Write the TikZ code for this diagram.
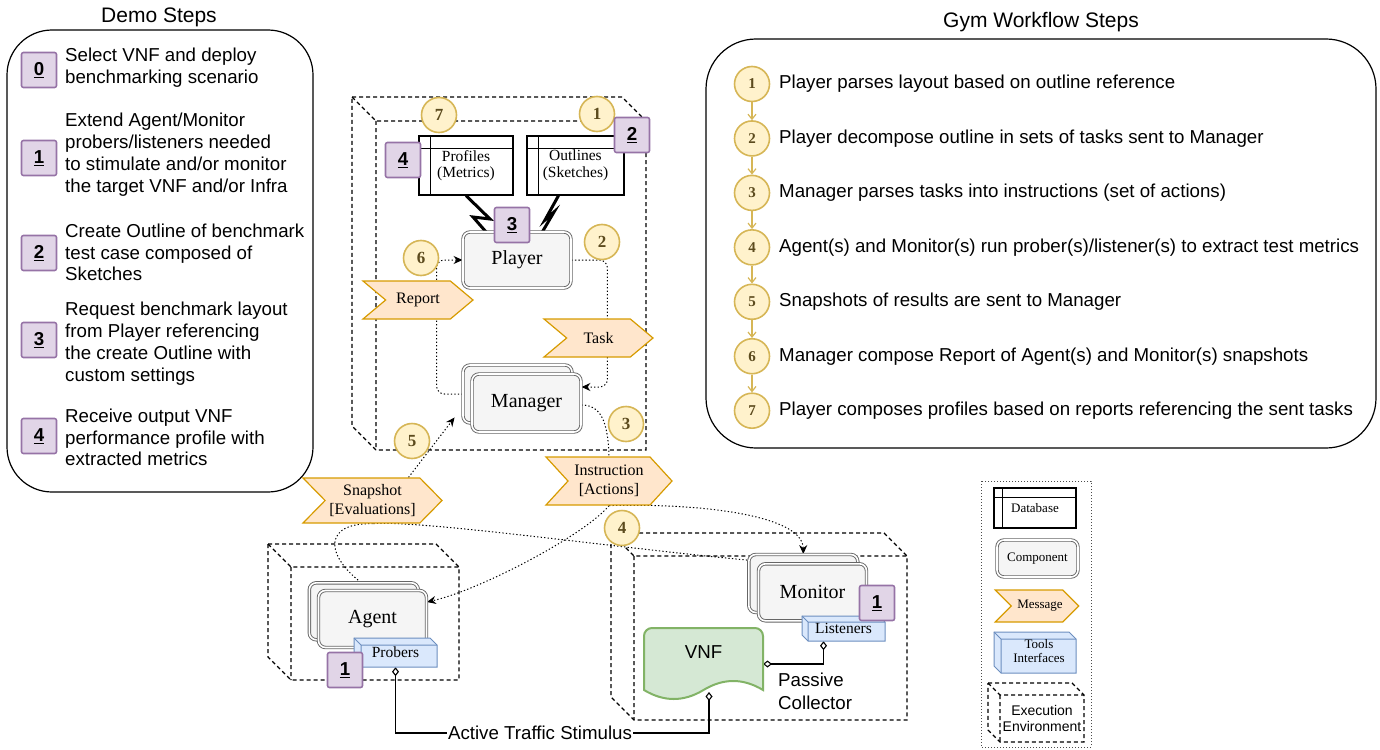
\documentclass[tikz,border=0pt]{standalone}
\usepackage{fontspec}
\setmainfont{Liberation Sans}
\newfontfamily\srf{Liberation Serif}
\usetikzlibrary{shapes.symbols,arrows.meta,calc,backgrounds}
\definecolor{pfill}{HTML}{E1D5E7}
\definecolor{pline}{HTML}{9673A6}
\definecolor{yfill}{HTML}{FFF2CC}
\definecolor{yline}{HTML}{D6B656}
\definecolor{ynum}{HTML}{5C4B1E}
\definecolor{mfill}{HTML}{FFE6CC}
\definecolor{mline}{HTML}{D79B00}
\definecolor{bfill}{HTML}{DAE8FC}
\definecolor{bline}{HTML}{6C8EBF}
\definecolor{gfill}{HTML}{D5E8D4}
\definecolor{gline}{HTML}{82B366}
\definecolor{cfill}{HTML}{F5F5F5}
\definecolor{cline}{HTML}{666666}
\newcommand\fsz[2]{\fontsize{#1pt}{#2pt}\selectfont}
\newcommand\envcube[5]{%
  \draw[envline] (#1,#2) -- ++(#3-#5,0) -- ++(#5,#5) -- ++(0,#4-#5) -- ++(-#3+#5,0) -- ++(-#5,-#5) -- cycle;
  \draw[envline] (#1,#2) -- ++(#5,#5) -- ++(#3-#5,0) (#1+#5,#2+#5) -- ++(0,#4-#5);}
\newcommand\toolcube[5]{%
  \draw[toolline] (#1,#2) -- ++(#3-#5,0) -- ++(#5,#5) -- ++(0,#4-#5) -- ++(-#3+#5,0) -- ++(-#5,-#5) -- cycle;
  \draw[draw=bline, line width=1pt] (#1,#2) -- ++(#5,#5) -- ++(#3-#5,0) (#1+#5,#2+#5) -- ++(0,#4-#5);}
\tikzset{
  envline/.style={line width=1.2pt, dash pattern=on 4pt off 3pt},
  toolline/.style={fill=bfill, draw=bline, line width=1pt},
  tooltxt/.style={inner sep=0, font=\srf\fsz{15.5}{17}, align=center},
  badge/.style={rectangle, rounded corners=2pt, fill=pfill, draw=pline, line width=1.6pt, minimum size=35pt, inner sep=0, font=\bfseries\fsz{18.7}{20}},
  stc/.style={circle, fill=yfill, draw=yline, line width=1.6pt, minimum size=35pt, inner sep=0, text=ynum, font=\srf\bfseries\fsz{17}{17}},
  gstc/.style={stc, font=\srf\bfseries\fsz{15}{15}},
  comp/.style={rectangle, draw=cline, double=white, double distance=1.6pt, line width=0.9pt, fill=cfill, rounded corners=7pt, inner sep=0, font=\srf\fsz{20}{22}},
  db/.style={rectangle, draw, line width=1.2pt, fill=white, inner sep=0, align=center, font=\srf\fsz{15.5}{16.5}},
  msg/.style={signal, signal to=east, signal from=west, signal pointer angle=90, fill=mfill, draw=mline, line width=1.2pt, inner sep=0, font=\srf\fsz{16}{18.5}, align=center},
  conn/.style={line width=1pt, dash pattern=on 1.3pt off 2.2pt, -{Stealth[length=9pt,width=8pt,inset=3pt]}},
  dotline/.style={line width=1pt, dash pattern=on 1.3pt off 2.2pt},
  diam/.style={line width=1.1pt, {Diamond[length=9pt,width=7pt,fill=white]}-{Diamond[length=9pt,width=7pt,fill=white]}},
  bolt/.style={line width=3pt, line join=miter},
  garrow/.style={draw=yline, line width=1.2pt, -{Straight Barb[length=5pt,width=8pt]}},
  body/.style={font=\fsz{18.7}{21.8}, align=left, inner sep=0},
  title/.style={font=\fsz{21}{24}, inner sep=0},
}
\begin{document}
\begin{tikzpicture}[x=1pt,y=-1pt]
\useasboundingbox (0,0) rectangle (1380,749);

% ---------------- Demo steps ----------------
\node[title] (demotitle) at (159,17) {Demo Steps};
\draw[line width=1.2pt, rounded corners=45pt] (7,30) rectangle (313,492);
\node[badge] (d0) at (39,70) {\underline{0}};
\node[badge] (d1) at (39,158) {\underline{1}};
\node[badge] (d2) at (39,253) {\underline{2}};
\node[badge] (d3) at (39,340) {\underline{3}};
\node[badge] (d4) at (39,436) {\underline{4}};
\node[body, anchor=west] (t0) at (65,68) {Select VNF and deploy\\benchmarking scenario};
\node[body, anchor=west] (t1) at (65,154.5) {Extend Agent/Monitor\\probers/listeners needed\\to stimulate and/or monitor\\the target VNF and/or Infra};
\node[body, anchor=west] (t2) at (65,252.5) {Create Outline of benchmark\\test case composed of\\Sketches};
\node[body, anchor=west] (t3) at (65,343.5) {Request benchmark layout\\from Player referencing\\the create Outline with\\custom settings};
\node[body, anchor=west] (t4) at (65,437.5) {Receive output VNF\\performance profile with\\extracted metrics};

% ---------------- Gym workflow steps ----------------
\node[title] (gymtitle) at (1041,22) {Gym Workflow Steps};
\draw[line width=1.2pt, rounded corners=50pt] (706,39) rectangle (1376,448);
\node[gstc] (g1) at (752,84) {1};
\node[gstc] (g2) at (752,138.45) {2};
\node[gstc] (g3) at (752,192.9) {3};
\node[gstc] (g4) at (752,247.35) {4};
\node[gstc] (g5) at (752,301.8) {5};
\node[gstc] (g6) at (752,356.25) {6};
\node[gstc] (g7) at (752,410.7) {7};
\node[body, anchor=west] (gt1) at (779,84) {Player parses layout based on outline reference};
\node[body, anchor=west] (gt2) at (779,138.45) {Player decompose outline in sets of tasks sent to Manager};
\node[body, anchor=west] (gt3) at (779,192.9) {Manager parses tasks into instructions (set of actions)};
\node[body, anchor=west] (gt4) at (779,247.35) {Agent(s) and Monitor(s) run prober(s)/listener(s) to extract test metrics};
\node[body, anchor=west] (gt5) at (779,301.8) {Snapshots of results are sent to Manager};
\node[body, anchor=west] (gt6) at (779,356.25) {Manager compose Report of Agent(s) and Monitor(s) snapshots};
\node[body, anchor=west] (gt7) at (779,410.7) {Player composes profiles based on reports referencing the sent tasks};
\foreach \a/\b in {1/2,2/3,3/4,4/5,5/6,6/7}{\draw[garrow] (g\a) -- (g\b);}

% ---------------- Execution environments ----------------
\envcube{352}{97}{294}{353}{24}
\envcube{268}{544}{191}{136}{23}
\envcube{611}{533}{296}{187}{23}

% ---------------- Databases ----------------
\node[db, minimum width=94pt, minimum height=59pt] (prof) at (466,165.5) {Profiles\\(Metrics)};
\draw[line width=1.2pt] ([xshift=12pt]prof.north west) -- ([xshift=12pt]prof.south west)
  ([yshift=-13pt]prof.north west) -- ([yshift=-13pt]prof.north east);
\node[db, minimum width=97pt, minimum height=59pt] (outl) at (575.5,165.5) {Outlines\\(Sketches)};
\draw[line width=1.2pt] ([xshift=12pt]outl.north west) -- ([xshift=12pt]outl.south west)
  ([yshift=-13pt]outl.north west) -- ([yshift=-13pt]outl.north east);

% ---------------- Components ----------------
\node[comp, minimum width=108pt, minimum height=56pt] (player) at (517,260) {Player};
\node[comp, minimum width=109pt, minimum height=58pt] (manB) at (517.5,394) {};
\node[comp, minimum width=109pt, minimum height=58pt] (man) at (526.5,403) {Manager};
\node[comp, minimum width=109pt, minimum height=57pt] (agentB) at (363.8,611.3) {};
\node[comp, minimum width=108pt, minimum height=57pt] (agent) at (372.5,619) {Agent};
\node[comp, minimum width=109pt, minimum height=58pt] (monB) at (803.3,583.5) {};
\node[comp, minimum width=108pt, minimum height=57pt] (mon) at (812.5,592.3) {Monitor};

% ---------------- Tools ----------------
\toolcube{354}{638}{83}{29}{7}
\node[tooltxt, minimum width=83pt, minimum height=29pt] (prob) at (395.5,652.5) {\raisebox{-3pt}{Probers}};
\toolcube{802}{616}{83}{25}{6}
\node[tooltxt, minimum width=83pt, minimum height=25pt] (list) at (843.5,628.5) {\raisebox{-2pt}{Listeners}};

% ---------------- VNF ----------------
\draw[fill=gfill, draw=gline, line width=2pt] (644,690) [rounded corners=8pt] -- (644,628) -- (763,628) [sharp corners] -- (763,690)
  .. controls (743.2,678) and (723.3,678) .. (703.5,690)
  .. controls (683.7,702) and (663.8,702) .. (644,690) -- cycle;
\node[font=\fsz{18.7}{20}, inner sep=0] (vnf) at (703.5,652) {VNF};
\coordinate (vnfR) at (763,664);
\coordinate (vnfB) at (709,692);

% ---------------- Messages ----------------
\node[msg, signal pointer angle=80, minimum width=110pt, minimum height=38pt] (rep) at (418,300) {Report};
\node[msg, signal pointer angle=80, minimum width=109pt, minimum height=38pt] (task) at (598.5,338) {Task};
\node[msg, signal pointer angle=95, minimum width=126pt, minimum height=48pt] (instr) at (609,481) {Instruction\\{}[Actions]};
\node[msg, signal pointer angle=91, minimum width=139pt, minimum height=45pt] (snap) at (372.5,500.5) {Snapshot\\{}[Evaluations]};

% ---------------- Texts ----------------
\node[font=\fsz{18.7}{20}, fill=white, inner sep=1pt] (ats) at (540,733) {Active Traffic Stimulus};
\node[font=\fsz{18.7}{23}, align=left, inner sep=0, anchor=west] (pc) at (778,691.5) {Passive\\Collector};

% ---------------- Connectors (behind) ----------------
\begin{scope}[on background layer]
  \draw[conn, rounded corners=8pt] (manB.west) -- ++(-26,0) |- (player.west);
  \draw[conn, rounded corners=8pt] (player.east) -- ++(36,0) |- ([yshift=16pt]man.east);
  \draw[dotline] ([yshift=-2pt]man.east) .. controls (600,405) and (608,420) .. (instr.north);
  \draw[conn] (instr.south) .. controls (585,535) and (480,590) .. ([yshift=17pt]agent.east);
  \draw[conn] (instr.south) .. controls (700,503) and (803,515) .. (monB.north);
  \draw[conn] ([xshift=36pt]snap.north) -- ([xshift=-8pt,yshift=6pt]manB.south west);
  \draw[dotline] (agent.north) .. controls (330,565) and (315,523) .. (snap.south);
  \draw[dotline] ([xshift=-27pt]mon.north) .. controls (650,553) and (430,520) .. (snap.south);
  \draw[bolt] (prof.south) -- (490,219) -- (473,217) -- (494,241);
  \draw[bolt] ([xshift=-17pt]outl.south) -- (545,220) -- (554,212) -- (537,241);
  \draw[diam] (prob.south) |- (ats.west) -- (ats.east) -| (vnfB);
  \draw[diam] (vnfR) -| ([xshift=-20pt]list.south);
\end{scope}

% ---------------- Step circles and badges ----------------
\node[stc] (c7) at (439,115) {7};
\node[stc] (c1) at (597,114) {1};
\node[stc] (c2) at (602,242) {2};
\node[stc] (c6) at (421,258) {6};
\node[stc] (c3) at (626,424) {3};
\node[stc] (c5) at (412,441) {5};
\node[stc] (c4) at (622,528) {4};
\node[badge] (b4) at (403,160) {\underline{4}};
\node[badge] (b2) at (632,135) {\underline{2}};
\node[badge] (b3) at (512,225) {\underline{3}};
\node[badge] (b1a) at (345,670) {\underline{1}};
\node[badge] (b1m) at (877,603) {\underline{1}};

% ---------------- Legend ----------------
\draw[line width=1pt, dash pattern=on 1pt off 2pt, draw=black!70] (981,481) rectangle (1091,747);
\node[db, minimum width=82pt, minimum height=40pt, font=\srf\fsz{13}{15}] (ldb) at (1035,508) {Database};
\draw[line width=1.2pt] ([xshift=9pt]ldb.north west) -- ([xshift=9pt]ldb.south west)
  ([yshift=-10pt]ldb.north west) -- ([yshift=-10pt]ldb.north east);
\node[comp, minimum width=81pt, minimum height=37pt, font=\srf\fsz{13}{15}] (lcomp) at (1037.5,558.5) {Component};
\node[msg, minimum width=82pt, minimum height=32pt, font=\srf\fsz{13}{15}] (lmsg) at (1037,606) {\hspace*{6pt}Message};
\toolcube{994}{632}{82}{41}{7}
\node[tooltxt, minimum width=82pt, minimum height=41pt, font=\srf\fsz{13}{14.5}] (ltool) at (1035,652.5) {\hspace*{8pt}\raisebox{-3pt}{\begin{tabular}{@{}c@{}}Tools\\Interfaces\end{tabular}}};
\envcube{988}{683}{96}{59}{12}
\node[font=\fsz{14}{16}, align=center, inner sep=0] (lenv) at (1042,718) {Execution\\Environment};
\end{tikzpicture}
\end{document}
